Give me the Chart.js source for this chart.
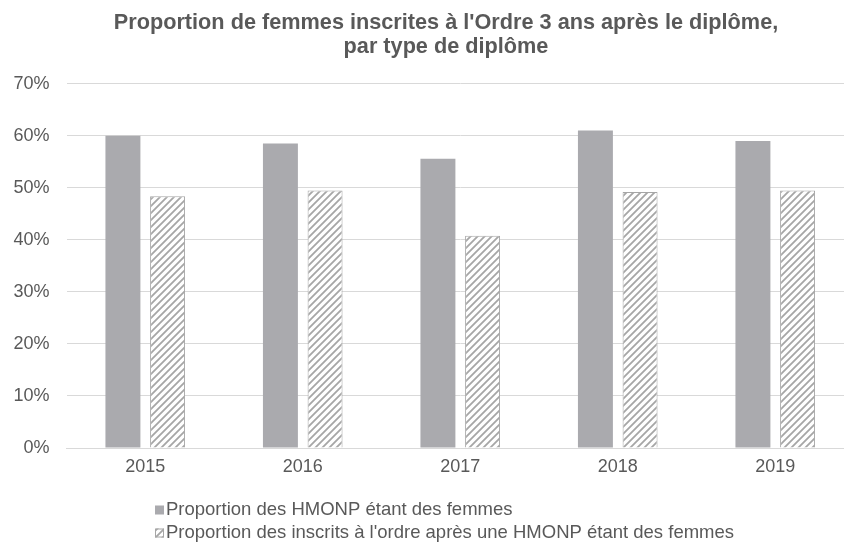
<!DOCTYPE html>
<html>
<head>
<meta charset="utf-8">
<script src="https://cdn.jsdelivr.net/npm/chart.js@4/dist/chart.umd.min.js"></script>
<style>
  html, body { margin: 0; padding: 0; overflow: hidden; background: #ffffff; }
  #wrap { width: 892px; height: 546px; position: relative; }
</style>
</head>
<body>
<div id="wrap"><canvas id="chart" width="892" height="546"></canvas></div>
<script>
// Categories and series (percent values)
const years = ['2015', '2016', '2017', '2018', '2019'];
const hmonpWomen = [60.0, 58.5, 55.6, 61.0, 59.0];
const registeredWomen = [48.4, 49.5, 40.8, 49.2, 49.5];
const seriesLabels = [
  'Proportion des HMONP étant des femmes',
  "Proportion des inscrits à l'ordre après une HMONP étant des femmes"
];
const titleLines = [
  "Proportion de femmes inscrites à l'Ordre 3 ans après le diplôme,",
  'par type de diplôme'
];
const yMax = 70;
const yStep = 10;

const FONT = "'Liberation Sans', Arial, sans-serif";
const TEXT = '#595959';
const SOLID = '#aaaaae';
const HATCH = '#a6a6a6';

// Diagonal hatch fill for the second series
function makeHatch() {
  const s = 7;
  const c = document.createElement('canvas');
  c.width = s; c.height = s;
  const g = c.getContext('2d');
  g.fillStyle = '#ffffff';
  g.fillRect(0, 0, s, s);
  g.strokeStyle = HATCH;
  g.lineWidth = 1.8;
  g.beginPath();
  g.moveTo(-1, s + 1); g.lineTo(s + 1, -1);
  g.moveTo(-1, 1); g.lineTo(1, -1);
  g.moveTo(s - 1, s + 1); g.lineTo(s + 1, s - 1);
  g.stroke();
  return g.createPattern(c, 'repeat');
}

const ctx = document.getElementById('chart').getContext('2d');
const hatch = makeHatch();

// Stacked legend drawn under the axis, left-aligned
const stackedLegend = {
  id: 'stackedLegend',
  afterDraw(chart) {
    const c = chart.ctx;
    const area = chart.chartArea;
    const x0 = 155;
    const rows = [area.bottom + 62, area.bottom + 85];
    c.save();
    c.font = '18.5px ' + FONT;
    c.textBaseline = 'middle';
    c.textAlign = 'left';
    chart.data.datasets.forEach((ds, i) => {
      const y = rows[i];
      const box = 9;
      c.fillStyle = ds.backgroundColor;
      c.fillRect(x0, y - box / 2, box, box);
      if (ds.borderWidth) {
        c.strokeStyle = ds.borderColor;
        c.lineWidth = 1;
        c.strokeRect(x0 + 0.5, y - box / 2 + 0.5, box - 1, box - 1);
      }
      c.fillStyle = TEXT;
      c.fillText(ds.label, x0 + 11, y);
    });
    c.restore();
  }
};

new Chart(ctx, {
  type: 'bar',
  data: {
    labels: years,
    datasets: [
      {
        label: seriesLabels[0],
        data: hmonpWomen,
        backgroundColor: SOLID,
        borderWidth: 0,
        categoryPercentage: 0.567,
        barPercentage: 0.783
      },
      {
        label: seriesLabels[1],
        data: registeredWomen,
        backgroundColor: hatch,
        borderColor: HATCH,
        borderWidth: 1,
        categoryPercentage: 0.567,
        barPercentage: 0.783
      }
    ]
  },
  options: {
    responsive: false,
    animation: false,
    devicePixelRatio: 1,
    layout: { padding: 0 },
    plugins: {
      legend: { display: false },
      tooltip: { enabled: false },
      title: {
        display: true,
        text: titleLines,
        color: TEXT,
        font: { family: FONT, size: 21.7, weight: 'bold', lineHeight: 1.1 },
        padding: { top: 11, bottom: 25 }
      }
    },
    scales: {
      x: {
        grid: { display: false, drawTicks: false },
        border: { display: true, color: '#d9d9d9', width: 1 },
        ticks: { color: TEXT, font: { family: FONT, size: 18 }, padding: 8 },
        afterFit(scale) { scale.height = 98; }
      },
      y: {
        min: 0,
        max: yMax,
        grid: { color: '#d9d9d9', lineWidth: 1, drawTicks: false },
        border: { display: false },
        ticks: {
          stepSize: yStep,
          color: TEXT,
          font: { family: FONT, size: 18 },
          padding: 17,
          callback: v => v + '%'
        },
        afterFit(scale) { scale.width = 66.5; }
      },
      // empty margin on the right of the plot
      margin: {
        type: 'linear',
        position: 'right',
        grid: { display: false, drawTicks: false },
        border: { display: false },
        ticks: { display: false },
        afterFit(scale) { scale.width = 38; }
      }
    }
  },
  plugins: [stackedLegend]
});
</script>
</body>
</html>
